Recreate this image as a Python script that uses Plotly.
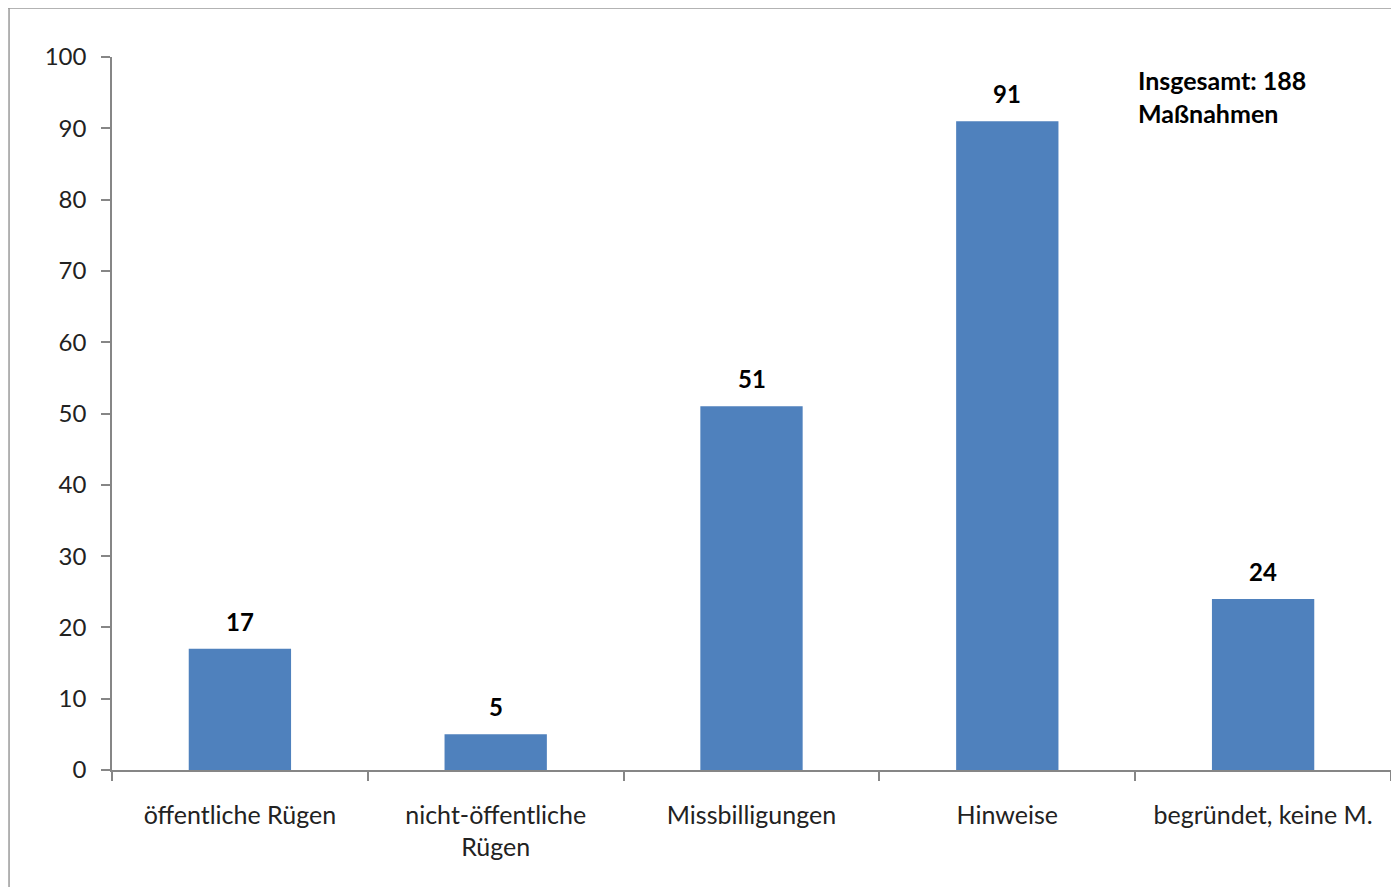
import plotly.graph_objects as go

categories = ["öffentliche Rügen", "nicht-öffentliche<br>Rügen", "Missbilligungen", "Hinweise", "begründet, keine M."]
values = [17, 5, 51, 91, 24]
y_ticks = [0, 10, 20, 30, 40, 50, 60, 70, 80, 90, 100]
note_text = "Insgesamt: 188<br>Maßnahmen"

BAR = "#4F81BD"
AXIS = "#868686"
FONT = "Lato"

fig = go.Figure()
fig.add_trace(go.Bar(x=categories, y=values, marker=dict(color=BAR, line=dict(width=0)), width=0.4))

for c, v in zip(categories, values):
    fig.add_annotation(x=c, y=v, text=f"<b>{v}</b>", showarrow=False, yanchor="bottom",
                       yshift=11, font=dict(family=FONT, size=24, color="#000000"))

fig.add_annotation(xref="paper", yref="paper", x=0.8005, y=0.992, xanchor="left", yanchor="top",
                   text=f"<b>{note_text}</b>", showarrow=False, align="left",
                   font=dict(family=FONT, size=25, color="#000000"))

# outer chart-area border (top and left edges visible)
fig.add_shape(type="line", xref="paper", yref="paper", x0=-0.0813, x1=1.01, y0=1.0687, y1=1.0687,
              line=dict(color="#9A9A9A", width=1.5))
fig.add_shape(type="line", xref="paper", yref="paper", x0=-0.0805, x1=-0.0805, y0=1.0687, y1=-0.2,
              line=dict(color="#9A9A9A", width=1.5))

fig.update_layout(
    width=1383, height=879,
    margin=dict(l=104, r=0, t=49, b=117),
    paper_bgcolor="white", plot_bgcolor="white",
    showlegend=False,
    font=dict(family=FONT, size=24, color="#222222"),
    bargap=0.6,
)
fig.update_xaxes(showline=True, linecolor=AXIS, linewidth=1.5, ticks="outside", tickson="boundaries",
                 ticklen=9, tickcolor=AXIS, tickwidth=1.5, showgrid=False, ticklabelstandoff=22,
                 tickfont=dict(family=FONT, size=25, color="#222222"))
fig.update_yaxes(range=[0, 100], tickvals=y_ticks, showline=True, linecolor=AXIS, linewidth=1.5,
                 ticks="outside", ticklen=9, tickcolor=AXIS, tickwidth=1.5, showgrid=False,
                 zeroline=False, ticklabelstandoff=10,
                 tickfont=dict(family=FONT, size=24, color="#222222"))

fig.write_html("out.html")
